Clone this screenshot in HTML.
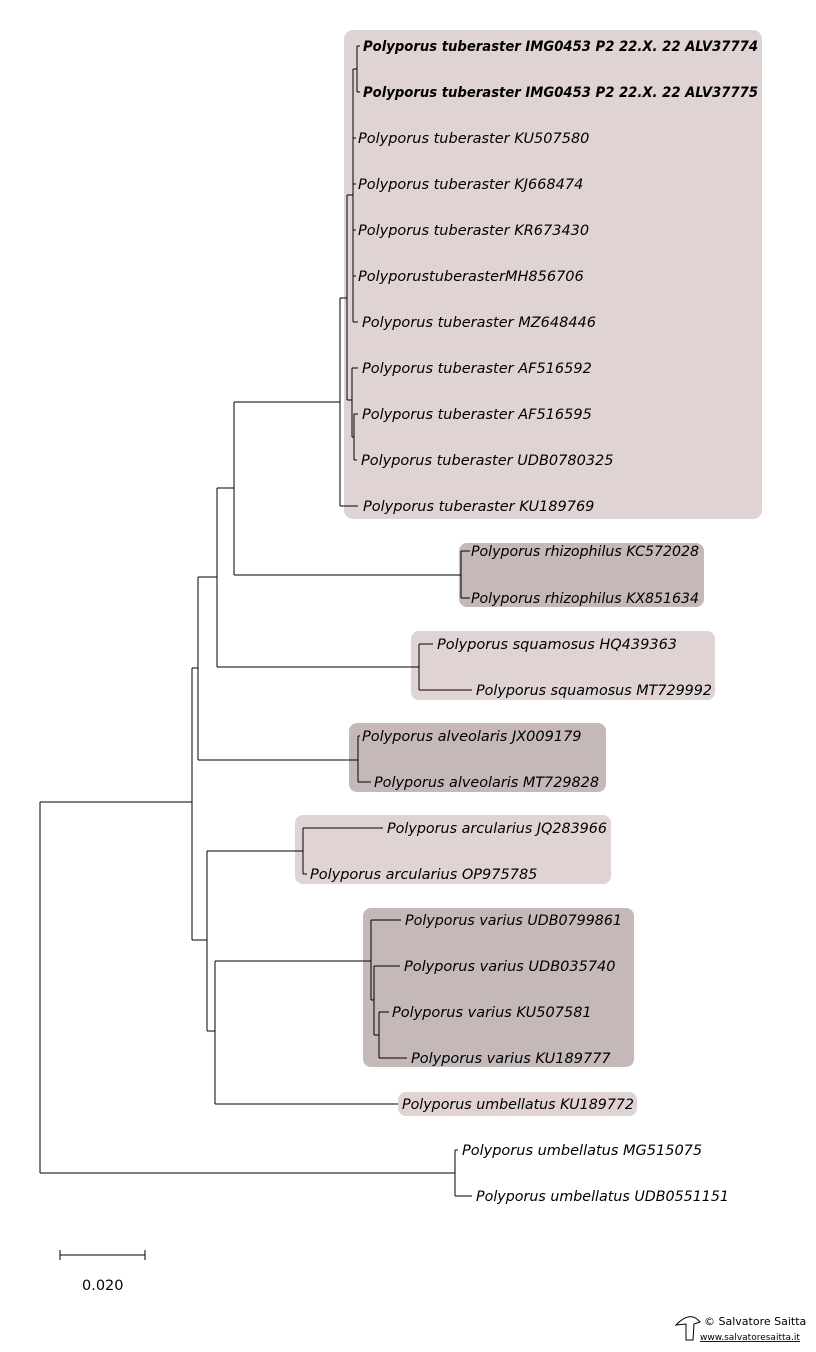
<!DOCTYPE html>
<html><head><meta charset="utf-8"><style>
html,body{margin:0;padding:0;background:#fff;}
svg{display:block}
text{font-family:"DejaVu Sans","Liberation Sans",sans-serif;font-size:14.5px;font-style:italic;fill:#000}
.b{font-weight:bold}
</style></head><body>
<svg width="816" height="1352" viewBox="0 0 816 1352" xmlns="http://www.w3.org/2000/svg">
<g>
<rect x="344" y="30" width="418" height="489" rx="9" fill="#e0d3d3"/>
<rect x="459" y="543" width="245" height="64" rx="8" fill="#c4b8b8"/>
<rect x="411" y="631" width="304" height="69" rx="8" fill="#e0d3d3"/>
<rect x="349" y="723" width="257" height="69" rx="8" fill="#c4b8b8"/>
<rect x="295" y="815" width="316" height="69" rx="8" fill="#e0d3d3"/>
<rect x="363" y="908" width="271" height="159" rx="8" fill="#c4b8b8"/>
<rect x="398" y="1092" width="239" height="24" rx="8" fill="#e0d3d3"/>
</g>
<g stroke="#000" stroke-width="1" fill="none" shape-rendering="crispEdges">
<path d="M40 802V1173M40 802H192M40 1173H455"/>
<path d="M455 1150V1196M455 1150H458M455 1196H472"/>
<path d="M192 668V940M192 668H198M192 940H207"/>
<path d="M198 577V760M198 577H217M198 760H358"/>
<path d="M217 488V667M217 488H234M217 667H419"/>
<path d="M234 402V575M234 402H340M234 575H461"/>
<path d="M461 551V598M461 551H470M461 598H470"/>
<path d="M419 644V690M419 644H433M419 690H472"/>
<path d="M358 736V782M358 736H360M358 782H371"/>
<path d="M340 298V506M340 298H347M340 506H358"/>
<path d="M347 195V400M347 195H353M347 400H352"/>
<path d="M353 69V322M353 69H357M353 138H356M353 184H356M353 230H356M353 276H356M353 322H358"/>
<path d="M357 46V92M357 46H360M357 92H360"/>
<path d="M352 368V437M352 368H358M352 437H354"/>
<path d="M354 414V460M354 414H358M354 460H357"/>
<path d="M207 851V1031M207 851H303M207 1031H215"/>
<path d="M303 828V874M303 828H383M303 874H307"/>
<path d="M215 961V1104M215 961H371M215 1104H398"/>
<path d="M371 920V1000M371 920H401M371 1000H374"/>
<path d="M374 966V1035M374 966H400M374 1035H379"/>
<path d="M379 1012V1058M379 1012H389M379 1058H407"/>
<path d="M60 1255H145M60 1250V1260M145 1250V1260"/>
</g>
<text x="363" y="51" class="b" textLength="395" lengthAdjust="spacingAndGlyphs">Polyporus tuberaster IMG0453 P2 22.X. 22 ALV37774</text>
<text x="363" y="97" class="b" textLength="395" lengthAdjust="spacingAndGlyphs">Polyporus tuberaster IMG0453 P2 22.X. 22 ALV37775</text>
<text x="358" y="143">Polyporus tuberaster KU507580</text>
<text x="358" y="189">Polyporus tuberaster KJ668474</text>
<text x="358" y="235">Polyporus tuberaster KR673430</text>
<text x="358" y="281">PolyporustuberasterMH856706</text>
<text x="362" y="327">Polyporus tuberaster MZ648446</text>
<text x="362" y="373">Polyporus tuberaster AF516592</text>
<text x="362" y="419">Polyporus tuberaster AF516595</text>
<text x="361" y="465">Polyporus tuberaster UDB0780325</text>
<text x="363" y="511">Polyporus tuberaster KU189769</text>
<text x="471" y="556" textLength="228" lengthAdjust="spacingAndGlyphs">Polyporus rhizophilus KC572028</text>
<text x="471" y="603" textLength="228" lengthAdjust="spacingAndGlyphs">Polyporus rhizophilus KX851634</text>
<text x="437" y="649">Polyporus squamosus HQ439363</text>
<text x="476" y="695" textLength="236" lengthAdjust="spacingAndGlyphs">Polyporus squamosus MT729992</text>
<text x="362" y="741">Polyporus alveolaris JX009179</text>
<text x="374" y="787" textLength="225" lengthAdjust="spacingAndGlyphs">Polyporus alveolaris MT729828</text>
<text x="387" y="833" textLength="220" lengthAdjust="spacingAndGlyphs">Polyporus arcularius JQ283966</text>
<text x="310" y="879">Polyporus arcularius OP975785</text>
<text x="405" y="925" textLength="217" lengthAdjust="spacingAndGlyphs">Polyporus varius UDB0799861</text>
<text x="404" y="971">Polyporus varius UDB035740</text>
<text x="392" y="1017">Polyporus varius KU507581</text>
<text x="411" y="1063">Polyporus varius KU189777</text>
<text x="402" y="1109" textLength="232" lengthAdjust="spacingAndGlyphs">Polyporus umbellatus KU189772</text>
<text x="462" y="1155">Polyporus umbellatus MG515075</text>
<text x="476" y="1201" textLength="253" lengthAdjust="spacingAndGlyphs">Polyporus umbellatus UDB0551151</text>
<text x="82" y="1290" style="font-style:normal">0.020</text>
<text x="704" y="1325" style="font-style:normal;font-size:11px">© Salvatore Saitta</text>
<text x="700" y="1340" style="font-style:normal;font-size:9px;text-decoration:underline">www.salvatoresaitta.it</text>
<path d="M676 1325 Q690 1310 700 1322 L694 1324 L693 1340 L686 1340 L686 1324 Z" fill="none" stroke="#000" stroke-width="1"/>
</svg>
</body></html>
